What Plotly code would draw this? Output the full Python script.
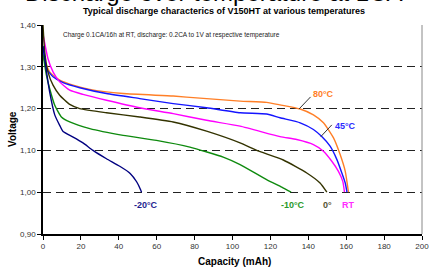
import plotly.graph_objects as go

# ---- data ----
cap_80 = [0, 3.5, 8.8, 15.9, 24.7, 42.3, 68.7, 82.8, 104, 118, 125.1, 135.7, 142.7, 148, 153.3, 156.8, 159.5, 161.2]
v_80 = [1.324, 1.288, 1.268, 1.256, 1.246, 1.236, 1.230, 1.225, 1.218, 1.215, 1.209, 1.199, 1.185, 1.166, 1.130, 1.090, 1.050, 1.0]

cap_45 = [0, 1.8, 5.3, 10.6, 19.4, 33.5, 51, 68.7, 86.3, 104, 118, 125.1, 135.7, 142.7, 147.1, 151.5, 155.1, 157.7, 159.5, 160.4]
v_45 = [1.348, 1.296, 1.276, 1.262, 1.250, 1.236, 1.224, 1.212, 1.202, 1.190, 1.187, 1.178, 1.166, 1.150, 1.133, 1.110, 1.078, 1.046, 1.022, 1.0]

cap_rt = [0, 2.6, 5.3, 8.8, 14.1, 21.1, 33.5, 51, 68.7, 86.3, 104, 125.1, 133.9, 142.7, 148, 152.4, 155.9, 158.2, 159.1]
v_rt = [1.378, 1.32, 1.288, 1.264, 1.244, 1.234, 1.220, 1.202, 1.188, 1.172, 1.158, 1.133, 1.126, 1.114, 1.098, 1.074, 1.050, 1.026, 1.0]

cap_0 = [0, 0.9, 2.6, 5.3, 8.8, 14.1, 19.4, 33.5, 51, 68.7, 86.3, 104, 112.8, 126.8, 139.2, 146.2, 149.8]
v_0 = [1.40, 1.336, 1.288, 1.256, 1.232, 1.210, 1.200, 1.190, 1.180, 1.168, 1.146, 1.118, 1.100, 1.077, 1.046, 1.022, 1.0]

cap_m10 = [0, 1.8, 3.5, 6.2, 9.7, 14.1, 24.7, 42.3, 59.9, 77.5, 95.1, 104, 118, 126, 130.9]
v_m10 = [1.33, 1.28, 1.248, 1.208, 1.180, 1.168, 1.152, 1.136, 1.124, 1.108, 1.084, 1.066, 1.030, 1.012, 1.0]

cap_m20 = [0, 1.8, 3.5, 6.2, 8.8, 10.6, 15.9, 21.1, 26.4, 33.5, 40.5, 46, 49.4, 51.5, 52]
v_m20 = [1.35, 1.29, 1.24, 1.185, 1.16, 1.145, 1.132, 1.118, 1.10, 1.08, 1.062, 1.045, 1.025, 1.006, 1.0]

x_ticks = [0, 20, 40, 60, 80, 100, 120, 140, 160, 180, 200]
y_ticks = [0.90, 1.00, 1.10, 1.20, 1.30, 1.40]

series = [
    ("80°C", cap_80, v_80, "#FF7F27"),
    ("45°C", cap_45, v_45, "#1414FF"),
    ("RT", cap_rt, v_rt, "#FF00FF"),
    ("0°", cap_0, v_0, "#333300"),
    ("-10°C", cap_m10, v_m10, "#0E8A0E"),
    ("-20°C", cap_m20, v_m20, "#000080"),
]

# label annotations: text, x, y, colour
labels = [
    ("80°C", 148.2, 1.235, "#FF7F27"),
    ("45°C", 159.8, 1.159, "#2B2BFF"),
    ("-20°C", 54.3, 0.970, "#1F1F8F"),
    ("-10°C", 132.0, 0.970, "#2A9A2A"),
    ("0°", 150.2, 0.970, "#555533"),
    ("RT", 161.0, 0.970, "#FF2BFF"),
]
leaders = [
    (135.1, 1.199, 141.2, 1.228),
    (146.6, 1.133, 152.4, 1.161),
]

FONT = "Liberation Sans, Arial, sans-serif"

fig = go.Figure()
for name, xs, ys, col in series:
    fig.add_trace(go.Scatter(x=xs, y=ys, mode="lines", name=name,
                             line=dict(color=col, width=1.4, shape="spline", smoothing=0.5),
                             showlegend=False, hoverinfo="skip"))

for x0, y0, x1, y1 in leaders:
    fig.add_shape(type="line", x0=x0, y0=y0, x1=x1, y1=y1, xref="x", yref="y",
                  line=dict(color="#333333", width=1))

for t, x, y, c in labels:
    fig.add_annotation(x=x, y=y, text=f"<b>{t}</b>", showarrow=False, xref="x", yref="y",
                       xanchor="center", yanchor="middle",
                       font=dict(family=FONT, size=9, color=c))

# right border
fig.add_shape(type="line", x0=1, x1=1, y0=0, y1=1, xref="paper", yref="paper",
              line=dict(color="#888888", width=1))

fig.add_annotation(x=9.7, y=1.3756, xref="x", yref="y", xanchor="left", yanchor="middle",
                   text="Charge 0.1CA/16h at RT, discharge: 0.2CA to 1V at respective temperature",
                   showarrow=False, font=dict(family=FONT, size=6.5, color="#222222"))

fig.add_annotation(x=0.45, y=1.083, xref="paper", yref="paper", xanchor="center", yanchor="bottom",
                   text="Discharge over temperature at 1CA", showarrow=False,
                   font=dict(family=FONT, size=24, color="#000000"))
fig.add_annotation(x=0.477, y=1.032, xref="paper", yref="paper", xanchor="center", yanchor="bottom",
                   text="<b>Typical discharge characterics of V150HT at various temperatures</b>",
                   showarrow=False, font=dict(family=FONT, size=9, color="#000000"))
fig.add_annotation(x=-0.081, y=0.504, xref="paper", yref="paper", textangle=-90,
                   xanchor="center", yanchor="middle",
                   text="<b>Voltage</b>", showarrow=False,
                   font=dict(family=FONT, size=10, color="#000000"))
fig.add_annotation(x=0.506, y=-0.131, xref="paper", yref="paper",
                   xanchor="center", yanchor="middle",
                   text="<b>Capacity (mAh)</b>", showarrow=False,
                   font=dict(family=FONT, size=10, color="#000000"))

fig.update_layout(
    width=430, height=269,
    margin=dict(l=43, r=8, t=25, b=35, autoexpand=False),
    paper_bgcolor="white", plot_bgcolor="white",
    separators=",.",
    font=dict(family=FONT, size=8, color="#333333"),
    xaxis=dict(range=[0, 200], tickvals=x_ticks, ticks="outside", ticklen=4, tickcolor="black",
               showline=True, linecolor="black", linewidth=1.5, showgrid=False, zeroline=False,
               automargin=False, tickfont=dict(size=8, color="#333333")),
    yaxis=dict(range=[0.9, 1.4], tickvals=y_ticks, tickformat=".2f", ticks="outside", ticklen=4,
               tickcolor="black", showline=True, linecolor="black", linewidth=1.5,
               showgrid=True, gridcolor="#222222", gridwidth=1, griddash="8px,5px",
               zeroline=False, automargin=False, tickfont=dict(size=8, color="#333333")),
)

fig.write_html("out.html", config={"displayModeBar": False},
               post_script="document.body.style.margin='0';document.body.style.overflow='hidden';")
